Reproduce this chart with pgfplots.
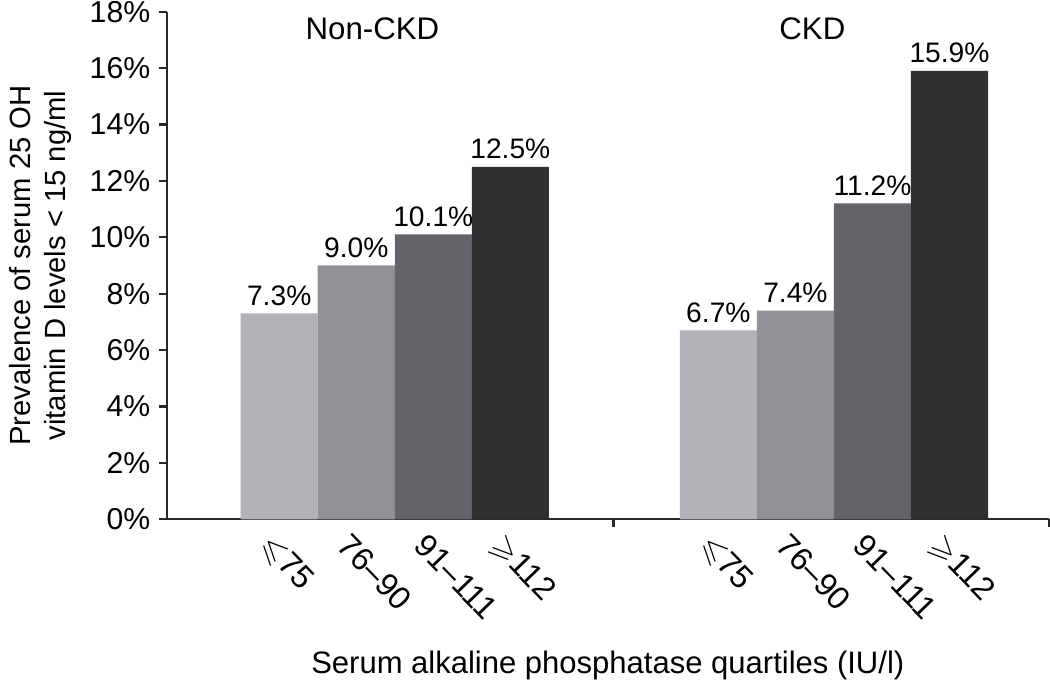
\documentclass[border=0pt]{standalone}
\usepackage{fontspec}
\setmainfont{Liberation Sans}
\usepackage{amssymb}
\usepackage{pgfplots}
\pgfplotsset{compat=1.18}
\definecolor{q1}{RGB}{178,179,183}
\definecolor{q2}{RGB}{145,146,150}
\definecolor{q3}{RGB}{99,100,104}
\definecolor{q4}{RGB}{50,47,49}
\definecolor{axgray}{RGB}{40,40,40}
\begin{document}
\fontsize{14}{17}\selectfont
\begin{tikzpicture}
\begin{axis}[
  scale only axis, width=438pt, height=252pt,
  xmin=0, xmax=11.45, ymin=0, ymax=18,
  axis x line*=bottom, axis y line*=left,
  axis line style={-, line width=1.1pt, draw=axgray},
  ytick={0,2,...,18},
  yticklabels={0\%,2\%,4\%,6\%,8\%,10\%,12\%,14\%,16\%,18\%},
  y tick style={line width=1.1pt, draw=axgray},
  tick align=outside, major tick length=4pt,
  y tick label style={font=\fontsize{15}{18}\selectfont, inner ysep=0.5pt, inner xsep=4pt},
  xtick={1.46,2.46,3.46,4.46,7.16,8.16,9.16,10.16},
  xticklabels={$\leqslant$75,76--90,91--111,$\geqslant$112,$\leqslant$75,76--90,91--111,$\geqslant$112},
  x tick style={draw=none},
  x tick label style={rotate=-46, anchor=north west, inner sep=1pt, xshift=-1pt, yshift=-2pt, font=\fontsize{16}{19}\selectfont},
  ylabel={Prevalence of serum 25 OH\\vitamin D levels < 15 ng/ml},
  ylabel style={align=center, font=\fontsize{14.5}{17.5}\selectfont},
  xlabel={Serum alkaline phosphatase quartiles (IU/l)},
  xlabel style={font=\fontsize{15.4}{18}\selectfont, inner sep=1pt, yshift=-12pt},
  ybar, bar width=1, bar shift=0pt,
  nodes near coords={\pgfmathprintnumber[fixed,fixed zerofill,precision=1,assume math mode=true]{\pgfplotspointmeta}\%},
  every node near coord/.append style={font=\fontsize{14}{17}\selectfont, text=black, yshift=-1pt},
  clip=false,
]
\addplot[fill=q1, draw=none] coordinates {(1.46,7.3) (7.16,6.7)};
\addplot[fill=q2, draw=none] coordinates {(2.46,9.0) (8.16,7.4)};
\addplot[fill=q3, draw=none] coordinates {(3.46,10.1) (9.16,11.2)};
\addplot[fill=q4, draw=none] coordinates {(4.46,12.5) (10.16,15.9)};
\draw[line width=1.1pt, draw=axgray] (axis cs:5.8,0) -- ++(0,-4pt);
\draw[line width=1.1pt, draw=axgray] (axis cs:11.45,0) -- ++(0,-4pt);
\node[font=\fontsize{15.5}{18}\selectfont] at (axis cs:2.67,17.4) {Non-CKD};
\node[font=\fontsize{15.5}{18}\selectfont] at (axis cs:8.38,17.4) {CKD};
\end{axis}
\end{tikzpicture}
\end{document}
